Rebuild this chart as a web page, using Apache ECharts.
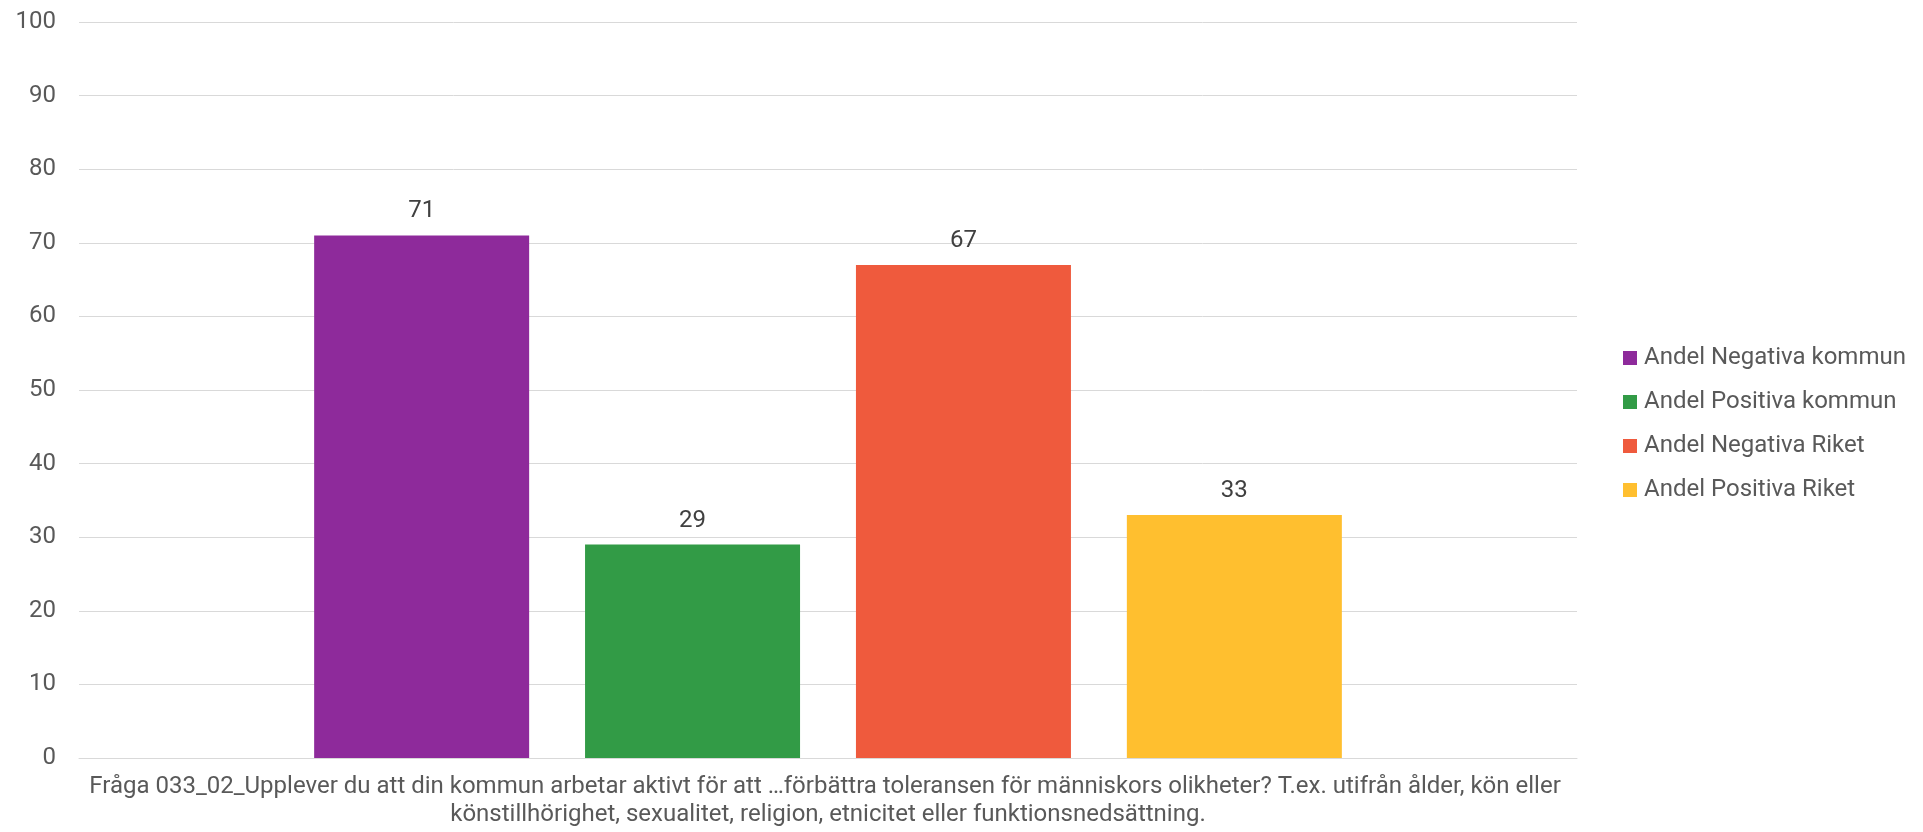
<!DOCTYPE html>
<html>
<head>
<meta charset="utf-8">
<script src="https://cdn.jsdelivr.net/npm/echarts@6/dist/echarts.min.js"></script>
<style>
html,body{margin:0;padding:0;background:#fff;}
#chart{width:1923px;height:832px;}
</style>
</head>
<body>
<div id="chart"></div>
<script>
const categories = ["Fråga 033_02_Upplever du att din kommun arbetar aktivt för att …förbättra toleransen för människors olikheter? T.ex. utifrån ålder, kön eller könstillhörighet, sexualitet, religion, etnicitet eller funktionsnedsättning."];
const seriesNames = ["Andel Negativa kommun", "Andel Positiva kommun", "Andel Negativa Riket", "Andel Positiva Riket"];
const negativaKommun = [71];
const positivaKommun = [29];
const negativaRiket = [67];
const positivaRiket = [33];
const yTicks = { min: 0, max: 100, interval: 10 };

const colors = ["#8e2a9b", "#329b46", "#ef5a3d", "#ffbf2f"];
const values = [negativaKommun, positivaKommun, negativaRiket, positivaRiket];
const textColor = "#595959";
const fontFamily = "Roboto";

const chart = echarts.init(document.getElementById('chart'));
chart.setOption({
  animation: false,
  textStyle: { fontFamily: fontFamily },
  grid: { left: 79, right: 346, top: 22, bottom: 74, containLabel: false },
  legend: {
    orient: 'vertical',
    left: 1618,
    top: 341,
    itemWidth: 14,
    itemHeight: 14,
    itemGap: 20,
    icon: 'rect',
    textStyle: { color: textColor, fontSize: 24, fontFamily: fontFamily, padding: [0, 0, 0, 2] },
    data: seriesNames
  },
  xAxis: {
    type: 'category',
    data: categories,
    axisLine: { show: true, lineStyle: { color: '#d9d9d9', width: 1 } },
    axisTick: { show: false },
    axisLabel: {
      color: textColor,
      fontSize: 24,
      fontFamily: fontFamily,
      margin: 15,
      lineHeight: 28,
      width: 1625,
      overflow: 'break',
      align: 'center'
    }
  },
  yAxis: {
    type: 'value',
    min: yTicks.min,
    max: yTicks.max,
    interval: yTicks.interval,
    axisLine: { show: false },
    axisTick: { show: false },
    axisLabel: { color: textColor, fontSize: 24, fontFamily: fontFamily, margin: 23 },
    splitLine: { lineStyle: { color: '#d9d9d9', width: 1 } }
  },
  series: seriesNames.map((name, i) => ({
    name: name,
    type: 'bar',
    data: values[i],
    barWidth: 215,
    barGap: '26%',
    itemStyle: { color: colors[i] },
    label: {
      show: true,
      position: 'top',
      distance: 12,
      color: '#404040',
      fontSize: 24,
      fontFamily: fontFamily
    }
  }))
});
</script>
</body>
</html>
